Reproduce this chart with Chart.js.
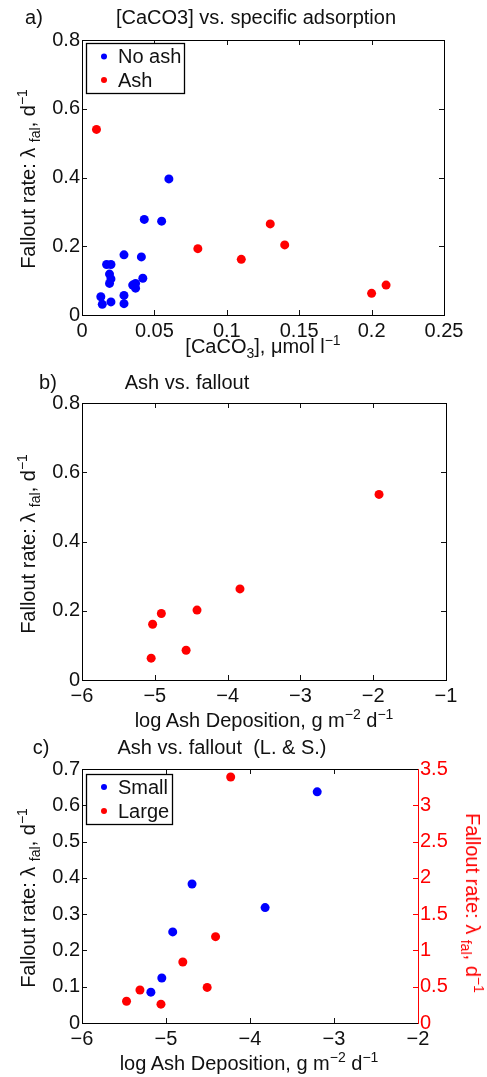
<!DOCTYPE html>
<html>
<head>
<meta charset="utf-8">
<script src="https://cdn.jsdelivr.net/npm/chart.js@4.4.1/dist/chart.umd.min.js"></script>
<style>
    body { margin: 0; background: #fff; }
    #page { position: relative; width: 487px; height: 1077px; overflow: hidden; font-family: "Liberation Sans", Arial, sans-serif; }
    .panel { position: absolute; left: 0; width: 487px; }
    .panel canvas { position: absolute; left: 0; top: 0; }
    .lbl { position: absolute; white-space: nowrap; font-size: 20px; line-height: 1; color: #111; transform: translate(-50%, -50%); }
    .rot { transform: translate(-50%, -50%) rotate(-90deg); }
    .rotcw { transform: translate(-50%, -50%) rotate(90deg); color: #f00; }
    .lbl sup, .lbl sub { font-size: 14px; line-height: 0; }
</style>
</head>
<body>
<div id="page">
    <div class="panel" style="top:0;height:360px"><canvas id="chartA" width="487" height="360"></canvas></div>
    <div class="panel" style="top:360px;height:360px"><canvas id="chartB" width="487" height="360"></canvas></div>
    <div class="panel" style="top:720px;height:357px"><canvas id="chartC" width="487" height="357"></canvas></div>

    <div class="lbl" style="left:34px;top:17px">a)</div>
    <div class="lbl" style="left:256px;top:17px">[CaCO3] vs. specific adsorption</div>
    <div class="lbl" style="left:263px;top:346px">[CaCO<sub>3</sub>], μmol l<sup>−1</sup></div>
    <div class="lbl rot" style="left:28px;top:179px">Fallout rate: λ <sub>fal</sub>, d<sup>−1</sup></div>

    <div class="lbl" style="left:48px;top:382px">b)</div>
    <div class="lbl" style="left:187px;top:382px">Ash vs. fallout</div>
    <div class="lbl" style="left:264px;top:720px">log Ash Deposition, g m<sup>−2</sup> d<sup>−1</sup></div>
    <div class="lbl rot" style="left:28px;top:544px">Fallout rate: λ <sub>fal</sub>, d<sup>−1</sup></div>

    <div class="lbl" style="left:41px;top:747px">c)</div>
    <div class="lbl" style="left:222px;top:747px">Ash vs. fallout &nbsp;(L. &amp; S.)</div>
    <div class="lbl" style="left:249px;top:1063px">log Ash Deposition, g m<sup>−2</sup> d<sup>−1</sup></div>
    <div class="lbl rot" style="left:28px;top:898px">Fallout rate: λ <sub>fal</sub>, d<sup>−1</sup></div>
    <div class="lbl rotcw" style="left:473px;top:903px">Fallout rate: λ <sub>fal</sub>, d<sup>−1</sup></div>
</div>

<script>
// a) [CaCO3] vs fallout rate
const A_NOASH_X = [0.060, 0.043, 0.055, 0.029, 0.041, 0.017, 0.020, 0.019, 0.020, 0.019,
    0.042, 0.035, 0.037, 0.037, 0.013, 0.014, 0.020, 0.029, 0.029];
const A_NOASH_Y = [0.396, 0.278, 0.273, 0.175, 0.169, 0.147, 0.147, 0.119, 0.105, 0.092,
    0.107, 0.087, 0.092, 0.078, 0.053, 0.031, 0.038, 0.057, 0.033];
const A_ASH_X = [0.01, 0.08, 0.11, 0.13, 0.14, 0.20, 0.21];
const A_ASH_Y = [0.540, 0.193, 0.162, 0.265, 0.204, 0.063, 0.087];

// b) log ash deposition vs fallout rate
const B_ASH_X = [-1.92, -3.83, -4.42, -4.91, -5.03, -4.57, -5.05];
const B_ASH_Y = [0.536, 0.263, 0.202, 0.192, 0.161, 0.086, 0.063];

// c) small (left axis) and large (right axis)
const C_SMALL_X = [-3.20, -4.69, -3.82, -4.92, -5.05, -5.18];
const C_SMALL_Y = [0.637, 0.383, 0.318, 0.251, 0.124, 0.085];
const C_LARGE_X = [-4.23, -4.41, -4.80, -4.51, -5.31, -5.47, -5.06];
const C_LARGE_Y = [3.39, 1.19, 0.84, 0.49, 0.455, 0.30, 0.26];

const A_XTICKS = [0, 0.05, 0.1, 0.15, 0.2, 0.25];
const AB_YTICKS = [0, 0.2, 0.4, 0.6, 0.8];
const B_XTICKS = [-6, -5, -4, -3, -2, -1];
const C_XTICKS = [-6, -5, -4, -3, -2];
const C_YTICKS = [0, 0.1, 0.2, 0.3, 0.4, 0.5, 0.6, 0.7];
const C_Y2TICKS = [0, 0.5, 1, 1.5, 2, 2.5, 3, 3.5];

const BLUE = "#0000ff";
const RED = "#ff0000";
const FONT = { family: "'Liberation Sans', Arial, sans-serif", size: 20 };

function points(xs, ys) {
    return xs.map((x, i) => ({ x, y: ys[i] }));
}

function fmt(v) {
    const n = Number(v);
    const s = String(Math.round(Math.abs(n) * 1000) / 1000);
    return n < 0 ? "\u2212" + s : s;
}

// MATLAB-style inward ticks + frame round the plot area
const frameTicks = {
    id: "frameTicks",
    afterDatasetsDraw(chart, args, opts) {
        const { ctx, chartArea: a } = chart;
        const len = 5;
        ctx.save();
        ctx.lineWidth = 1;
        Object.values(chart.scales).forEach((scale) => {
            ctx.strokeStyle = scale.options.ticks.color;
            ctx.beginPath();
            scale.ticks.forEach((t) => {
                const p = Math.round(scale.getPixelForValue(t.value)) + 0.5;
                if (scale.isHorizontal()) {
                    ctx.moveTo(p, a.bottom); ctx.lineTo(p, a.bottom - len);
                    ctx.moveTo(p, a.top); ctx.lineTo(p, a.top + len);
                } else {
                    if (scale.position === "left") {
                        ctx.moveTo(a.left, p); ctx.lineTo(a.left + len, p);
                    }
                    if (scale.position === "right" || opts.mirrorY) {
                        ctx.moveTo(a.right, p); ctx.lineTo(a.right - len, p);
                    }
                }
            });
            ctx.stroke();
        });
        ctx.strokeStyle = "#000";
        ctx.strokeRect(a.left + 0.5, a.top + 0.5, a.right - a.left, a.bottom - a.top);
        if (opts.rightColor) {
            ctx.strokeStyle = opts.rightColor;
            ctx.beginPath();
            ctx.moveTo(a.right + 0.5, a.top);
            ctx.lineTo(a.right + 0.5, a.bottom + 1);
            ctx.stroke();
        }
        ctx.restore();
    },
};

// boxed legend drawn inside the axes, top left
const boxLegend = {
    id: "boxLegend",
    afterDraw(chart, args, opts) {
        const b = opts.box;
        if (!b) {
            return;
        }
        const { ctx } = chart;
        ctx.save();
        ctx.fillStyle = "#fff";
        ctx.fillRect(b.x, b.y, b.w, b.h);
        ctx.strokeStyle = "#000";
        ctx.lineWidth = 1.3;
        ctx.strokeRect(b.x + 0.5, b.y + 0.5, b.w, b.h);
        ctx.font = `${FONT.size}px ${FONT.family}`;
        ctx.textBaseline = "middle";
        chart.data.datasets.forEach((ds, i) => {
            const y = b.y + b.rowTop + i * b.rowGap;
            ctx.fillStyle = ds.backgroundColor;
            ctx.beginPath();
            ctx.arc(b.x + 18, y, 3, 0, Math.PI * 2);
            ctx.fill();
            ctx.fillStyle = "#111";
            ctx.fillText(ds.label, b.x + 32, y + 1);
        });
        ctx.restore();
    },
};

function dataset(label, data, color, axis) {
    return {
        label,
        data,
        yAxisID: axis || "y",
        backgroundColor: color,
        borderColor: color,
        borderWidth: 0,
        pointRadius: 4.5,
        pointHoverRadius: 4.5,
        showLine: false,
    };
}

function linearAxis(position, min, max, tickList, size, color) {
    const horizontal = position === "bottom";
    return {
        type: "linear",
        position,
        min,
        max,
        grid: { display: false, drawTicks: false },
        border: { display: false },
        afterBuildTicks(scale) {
            scale.ticks = tickList.map((value) => ({ value }));
        },
        afterFit(scale) {
            if (horizontal) {
                scale.height = size;
            } else {
                scale.width = size;
            }
        },
        ticks: {
            autoSkip: false,
            maxRotation: 0,
            padding: horizontal ? 4 : 2,
            color: color || "#111",
            font: FONT,
            callback: (v) => fmt(v),
        },
    };
}

function makeChart(id, datasets, scales, padding, pluginOpts) {
    return new Chart(document.getElementById(id), {
        type: "scatter",
        data: { datasets },
        plugins: [frameTicks, boxLegend],
        options: {
            responsive: false,
            animation: false,
            devicePixelRatio: 1,
            layout: { padding },
            scales,
            plugins: {
                legend: { display: false },
                tooltip: { enabled: false },
                frameTicks: pluginOpts.frame,
                boxLegend: pluginOpts.legend,
            },
        },
    });
}

makeChart(
    "chartA",
    [dataset("No ash", points(A_NOASH_X, A_NOASH_Y), BLUE), dataset("Ash", points(A_ASH_X, A_ASH_Y), RED)],
    {
        x: linearAxis("bottom", 0, 0.25, A_XTICKS, 45),
        y: linearAxis("left", 0, 0.8, AB_YTICKS, 82),
    },
    { top: 40, right: 43, left: 0, bottom: 0 },
    {
        frame: { mirrorY: true },
        legend: { box: { x: 86, y: 43, w: 98, h: 50, rowTop: 13.5, rowGap: 23.5 } },
    },
);

makeChart(
    "chartB",
    [dataset("Ash", points(B_ASH_X, B_ASH_Y), RED)],
    {
        x: linearAxis("bottom", -6, -1, B_XTICKS, 40),
        y: linearAxis("left", 0, 0.8, AB_YTICKS, 82),
    },
    { top: 43, right: 41, left: 0, bottom: 0 },
    { frame: { mirrorY: true }, legend: {} },
);

makeChart(
    "chartC",
    [
        dataset("Small", points(C_SMALL_X, C_SMALL_Y), BLUE, "y"),
        dataset("Large", points(C_LARGE_X, C_LARGE_Y), RED, "y2"),
    ],
    {
        x: linearAxis("bottom", -6, -2, C_XTICKS, 54),
        y: linearAxis("left", 0, 0.7, C_YTICKS, 82),
        y2: linearAxis("right", 0, 3.5, C_Y2TICKS, 69, RED),
    },
    { top: 49, right: 0, left: 0, bottom: 0 },
    {
        frame: { mirrorY: false, rightColor: RED },
        legend: { box: { x: 86, y: 54, w: 86, h: 50, rowTop: 13, rowGap: 24 } },
    },
);
</script>
</body>
</html>
